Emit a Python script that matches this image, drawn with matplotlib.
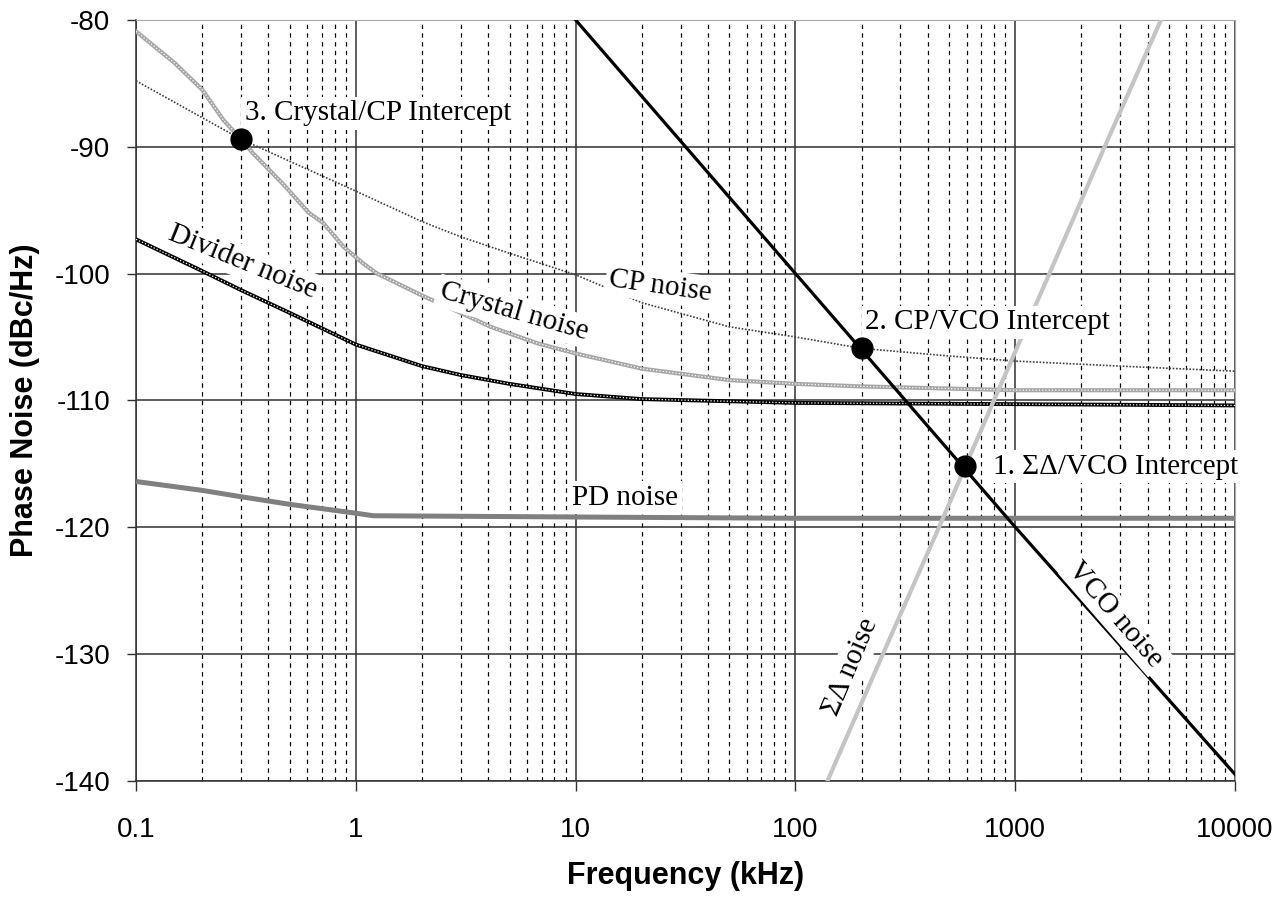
import matplotlib
matplotlib.use("Agg")
import matplotlib.pyplot as plt
import numpy as np

# ---------------- data ----------------
vco_f = [10, 100, 1000, 10000]
vco_db = [-80.0, -100.0, -120.0, -139.5]

sd_f = [140, 250, 450, 800, 1430, 2550, 4600]
sd_db = [-140, -130, -120, -110, -100, -90, -80]

cp_f = [0.1, 0.3, 1, 2, 3, 5, 10, 20, 50, 100, 200, 500, 1000, 3000, 10000]
cp_db = [-84.8, -89.4, -93.5, -95.9, -97.1, -98.4, -100.1, -102.3, -104.2,
         -105.0, -105.9, -106.5, -106.9, -107.3, -107.7]

xtal_f = [0.1, 0.15, 0.2, 0.25, 0.3, 0.34, 0.47, 0.61, 0.71, 0.88, 1.08, 1.25,
          2.04, 3.0, 4.1, 6.7, 10, 20, 50, 100, 200, 1000, 10000]
xtal_db = [-80.9, -83.4, -85.5, -87.9, -89.4, -90.5, -93.0, -95.2, -96.0, -97.9,
           -99.2, -100.0, -101.8, -103.1, -104.2, -105.5, -106.3, -107.5, -108.4,
           -108.7, -108.9, -109.2, -109.2]

div_f = [0.1, 0.2, 0.3, 0.5, 1, 2, 3, 5, 10, 20, 100, 1000, 10000]
div_db = [-97.3, -99.8, -101.3, -103.1, -105.6, -107.3, -108.0, -108.7, -109.5,
          -109.9, -110.2, -110.3, -110.4]

pd_f = [0.1, 0.2, 0.3, 0.5, 1, 1.2, 10, 100, 10000]
pd_db = [-116.4, -117.1, -117.6, -118.2, -118.9, -119.1, -119.2, -119.3, -119.3]

pt_f = [0.3, 200, 590]
pt_db = [-89.4, -105.9, -115.2]

xticks = [0.1, 1, 10, 100, 1000, 10000]
xtick_labels = ["0.1", "1", "10", "100", "1000", "10000"]
yticks = [-140, -130, -120, -110, -100, -90, -80]
ytick_labels = ["-140", "-130", "-120", "-110", "-100", "-90", "-80"]

# ---------------- figure ----------------
fig = plt.figure(figsize=(12.8, 9.01), dpi=100)
ax = fig.add_axes([0.1063, 0.1335, 0.8586, 0.8443])
ax.set_xscale("log")
ax.set_xlim(0.1, 10000)
ax.set_ylim(-140, -80)

# grid
ax.set_xticks(xticks)
ax.set_xticklabels(xtick_labels)
ax.set_yticks(yticks)
ax.set_yticklabels(ytick_labels)
ax.xaxis.set_minor_locator(matplotlib.ticker.LogLocator(base=10, subs=np.arange(2, 10)))
ax.xaxis.set_minor_formatter(matplotlib.ticker.NullFormatter())
ax.grid(which="major", axis="both", color="#303030", linewidth=1.1, linestyle="-", zorder=0)
ax.grid(which="minor", axis="x", color="black", linewidth=0.9, linestyle=(0, (3.5, 3.5)), zorder=0)
ax.set_axisbelow(True)

for s in ["top", "right"]:
    ax.spines[s].set_color("#a8a8a8")
for s in ["left", "bottom"]:
    ax.spines[s].set_color("#303030")
    ax.spines[s].set_linewidth(1.1)

ax.tick_params(axis="x", which="major", direction="out", length=7, width=1,
               pad=19, labelsize=20, color="#303030")
ax.tick_params(axis="x", which="minor", length=0)
ax.tick_params(axis="y", which="major", direction="out", length=6.5, width=1,
               pad=12, labelsize=20, color="#303030")
for lab in ax.get_xticklabels() + ax.get_yticklabels():
    lab.set_fontfamily("Liberation Sans")

# ---------------- series ----------------
# PD noise
ax.plot(pd_f, pd_db, color="#808080", linewidth=3.6, solid_capstyle="butt", zorder=3)
# Divider noise (beaded black)
ax.plot(div_f, div_db, color="black", linewidth=2.8, zorder=3)
ax.plot(div_f, div_db, color="white", linewidth=0.9, linestyle=(0, (1, 1.6)), zorder=3.1)
# Crystal noise (beaded gray)
ax.plot(xtal_f, xtal_db, color="#a6a6a6", linewidth=3.0, zorder=3)
ax.plot(xtal_f, xtal_db, color="white", linewidth=0.9, linestyle=(0, (1, 1.6)), zorder=3.1)
# CP noise (thin dotted)
ax.plot(cp_f, cp_db, color="#404040", linewidth=1.2, linestyle=(0, (1, 1)), zorder=3.2)
# Sigma-Delta noise
ax.plot(sd_f, sd_db, color="#c4c4c4", linewidth=3.0, zorder=3.3)
# VCO noise
ax.plot(vco_f, vco_db, color="black", linewidth=2.3, zorder=3.4)

# intercept points
ax.plot(pt_f, pt_db, linestyle="none", marker="o", markersize=15,
        markerfacecolor="black", markeredgecolor="black", zorder=6)

# ---------------- labels ----------------
serif = "Liberation Serif"
bb = dict(boxstyle="square,pad=0.12", facecolor="white", edgecolor="none")
tsize = 21

ax.text(0.313, -87.9, "3. Crystal/CP Intercept", family=serif, fontsize=tsize,
        ha="left", va="baseline", bbox=bb, zorder=5)
ax.text(208, -104.4, "2. CP/VCO Intercept", family=serif, fontsize=tsize,
        ha="left", va="baseline", bbox=bb, zorder=5)
ax.text(796, -115.8, "1. ΣΔ/VCO Intercept", family=serif, fontsize=tsize,
        ha="left", va="baseline", bbox=bb, zorder=5, clip_on=False)

ax.text(24.3, -100.98, "CP noise", family=serif, fontsize=tsize, rotation=-8,
        rotation_mode="anchor", ha="center", va="center", bbox=bb, zorder=5)
ax.text(5.25, -103.0, "Crystal noise", family=serif, fontsize=tsize, rotation=-16,
        rotation_mode="anchor", ha="center", va="center", bbox=bb, zorder=5)
ax.text(0.307, -99.1, "Divider noise", family=serif, fontsize=tsize, rotation=-22,
        rotation_mode="anchor", ha="center", va="center", bbox=bb, zorder=5)
ax.text(16.8, -117.7, "PD noise", family=serif, fontsize=tsize, rotation=0,
        ha="center", va="center", bbox=bb, zorder=5)
ax.text(2858, -126.9, "VCO noise", family=serif, fontsize=tsize, rotation=-49,
        rotation_mode="anchor", ha="center", va="center", bbox=bb, zorder=5)
ax.text(177.8, -131.0, "ΣΔ noise", family=serif, fontsize=tsize, rotation=67,
        rotation_mode="anchor", ha="center", va="center", bbox=bb, zorder=5)

ax.set_xlabel("Frequency (kHz)", fontsize=22, fontweight="bold", family="Liberation Sans")
ax.set_ylabel("Phase Noise (dBc/Hz)", fontsize=22, fontweight="bold", family="Liberation Sans")
ax.xaxis.set_label_coords(0.5, -0.106)
ax.yaxis.set_label_coords(-0.087, 0.5)

fig.savefig("out.png", dpi=100, facecolor="white")
